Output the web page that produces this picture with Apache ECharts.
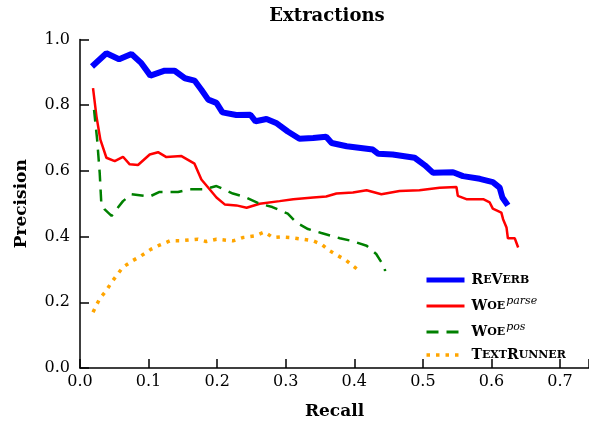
<!DOCTYPE html>
<html>
<head>
<meta charset="utf-8">
<script src="https://cdn.jsdelivr.net/npm/echarts@6/dist/echarts.min.js"></script>
<style>html,body{margin:0;padding:0;background:#fff}#c{width:589px;height:425px}</style>
</head>
<body>
<div id="c"></div>
<script>
const xTicks = [0, 0.1, 0.2, 0.3, 0.4, 0.5, 0.6, 0.7];
const yTicks = [0, 0.2, 0.4, 0.6, 0.8, 1.0];

const reverbRecall = [0.0175,0.0385,0.057,0.075,0.0895,0.1027,0.1235,0.138,0.153,0.167,0.177,0.187,0.199,0.2077,0.228,0.2485,0.256,0.272,0.286,0.303,0.320,0.34,0.359,0.367,0.389,0.427,0.435,0.456,0.488,0.503,0.515,0.544,0.5585,0.583,0.602,0.612,0.616,0.624];
const reverbPrecision = [0.918,0.958,0.94,0.956,0.928,0.89,0.905,0.905,0.882,0.875,0.847,0.817,0.807,0.778,0.770,0.771,0.751,0.758,0.746,0.72,0.698,0.70,0.704,0.685,0.675,0.665,0.652,0.65,0.64,0.617,0.594,0.596,0.584,0.576,0.566,0.549,0.519,0.495];

const woeParseRecall = [0.019,0.024,0.0297,0.0385,0.0506,0.0627,0.0725,0.0846,0.1017,0.1138,0.126,0.148,0.167,0.177,0.189,0.199,0.211,0.228,0.243,0.262,0.291,0.311,0.34,0.359,0.374,0.398,0.418,0.4395,0.466,0.495,0.5245,0.549,0.551,0.5635,0.588,0.5975,0.602,0.6145,0.617,0.622,0.624,0.634,0.639];
const woeParsePrecision = [0.852,0.766,0.695,0.64,0.63,0.643,0.62,0.618,0.65,0.657,0.642,0.645,0.622,0.574,0.544,0.519,0.498,0.495,0.488,0.50,0.508,0.514,0.519,0.522,0.531,0.534,0.541,0.529,0.539,0.541,0.549,0.551,0.524,0.514,0.514,0.504,0.485,0.473,0.453,0.428,0.395,0.395,0.367];

const woePosRecall = [0.0205,0.025,0.0287,0.031,0.036,0.046,0.0627,0.075,0.1017,0.116,0.143,0.16,0.182,0.199,0.223,0.240,0.262,0.2805,0.303,0.3155,0.3325,0.352,0.379,0.396,0.418,0.432,0.444,0.445];
const woePosPrecision = [0.786,0.695,0.595,0.504,0.483,0.463,0.508,0.529,0.522,0.536,0.536,0.544,0.544,0.554,0.531,0.521,0.50,0.49,0.470,0.443,0.423,0.411,0.395,0.387,0.372,0.347,0.307,0.295];

const textRunnerRecall = [0.019,0.0287,0.0385,0.046,0.0627,0.077,0.0895,0.104,0.116,0.131,0.145,0.172,0.184,0.199,0.223,0.2375,0.255,0.269,0.2815,0.294,0.308,0.325,0.34,0.352,0.364,0.376,0.3885,0.4005,0.41];
const textRunnerPrecision = [0.170,0.211,0.236,0.261,0.307,0.327,0.342,0.362,0.374,0.387,0.387,0.392,0.385,0.392,0.387,0.397,0.402,0.414,0.397,0.399,0.397,0.392,0.387,0.377,0.357,0.342,0.327,0.307,0.291];

const pair = (xs, ys) => xs.map((x, i) => [x, ys[i]]);
const serif = 'DejaVu Serif';

const chart = echarts.init(document.getElementById('c'));
chart.setOption({
  animation: false,
  title: {
    text: 'Extractions', left: 322, top: 2, textAlign: 'center',
    textStyle: { fontFamily: serif, fontWeight: 'bold', fontSize: 18, color: '#000' }
  },
  grid: { left: 80, right: 0, top: 39.5, bottom: 55.5 },
  xAxis: {
    type: 'value', min: 0, max: 0.7423,
    name: 'Recall', nameLocation: 'middle', nameGap: 35,
    nameTextStyle: { fontFamily: serif, fontWeight: 'bold', fontSize: 17, color: '#000' },
    axisLine: { show: true, lineStyle: { color: '#000', width: 1.5 } },
    axisTick: { show: true, inside: true, length: 9, lineStyle: { color: '#000', width: 1.5 } },
    axisLabel: { customValues: xTicks, formatter: v => v.toFixed(1), fontFamily: serif, fontSize: 16, color: '#000', margin: 6 },
    splitLine: { show: false }
  },
  yAxis: {
    type: 'value', min: 0, max: 1.0, interval: 0.2,
    name: 'Precision', nameLocation: 'middle', nameGap: 50, nameRotate: 90,
    nameTextStyle: { fontFamily: serif, fontWeight: 'bold', fontSize: 17, color: '#000' },
    axisLine: { show: true, lineStyle: { color: '#000', width: 1.5 } },
    axisTick: { show: true, inside: true, length: 9, lineStyle: { color: '#000', width: 1.5 } },
    axisLabel: { formatter: v => v.toFixed(1), fontFamily: serif, fontSize: 16, color: '#000', margin: 10 },
    splitLine: { show: false }
  },
  legend: {
    orient: 'vertical', left: 424, top: 273, padding: 0,
    itemWidth: 38, itemHeight: 14, itemGap: 9,
    itemStyle: { opacity: 0, borderWidth: 0 },
    data: [
      { name: 'ReVerb', lineStyle: { width: 5 } },
      { name: 'WOEparse', lineStyle: { width: 3 } },
      { name: 'WOEpos', lineStyle: { width: 3 } },
      { name: 'TextRunner', lineStyle: { width: 3.5 } }
    ],
    formatter: function (name) {
      if (name === 'ReVerb') return '{c|R}{s|E}{c|V}{s|ERB}';
      if (name === 'WOEparse') return '{c|W}{s|OE}{sup|parse}';
      if (name === 'WOEpos') return '{c|W}{s|OE}{sup|pos}';
      return '{c|T}{s|EXT}{c|R}{s|UNNER}';
    },
    textStyle: {
      color: '#000', padding: [0, 0, 0, 2],
      rich: {
        c: { fontFamily: serif, fontWeight: 'bold', fontSize: 14, color: '#000' },
        s: { fontFamily: serif, fontWeight: 'bold', fontSize: 11, color: '#000' },
        sup: { fontFamily: serif, fontStyle: 'italic', fontSize: 11, color: '#000', padding: [0, 0, 9, 1] }
      }
    }
  },
  series: [
    { name: 'ReVerb', type: 'line', symbol: 'none', data: pair(reverbRecall, reverbPrecision),
      lineStyle: { color: '#0000ff', width: 6 }, itemStyle: { color: '#0000ff' } },
    { name: 'WOEparse', type: 'line', symbol: 'none', data: pair(woeParseRecall, woeParsePrecision),
      lineStyle: { color: '#ff0000', width: 2.5 }, itemStyle: { color: '#ff0000' } },
    { name: 'WOEpos', type: 'line', symbol: 'none', data: pair(woePosRecall, woePosPrecision),
      lineStyle: { color: '#008000', width: 2.5, type: [12, 8] }, itemStyle: { color: '#008000' } },
    { name: 'TextRunner', type: 'line', symbol: 'none', data: pair(textRunnerRecall, textRunnerPrecision),
      lineStyle: { color: '#ffa500', width: 3.5, type: [3.5, 6] }, itemStyle: { color: '#ffa500' } }
  ]
});
</script>
</body>
</html>
